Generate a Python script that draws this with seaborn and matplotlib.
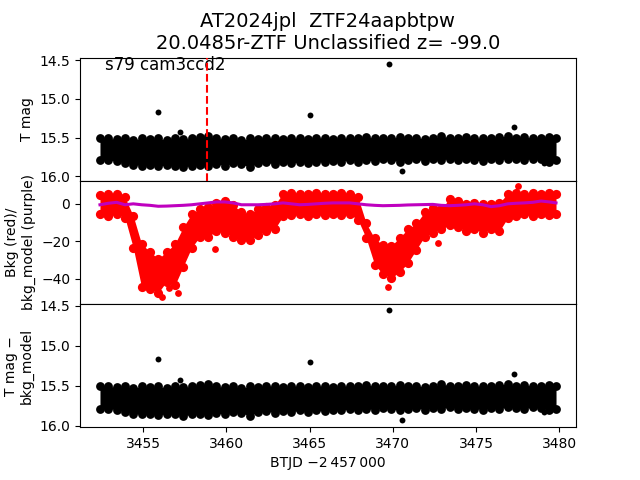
import matplotlib
matplotlib.use("Agg")
import matplotlib.pyplot as plt
import seaborn as sns

# ---- data ----
btjd = [3452.4, 3452.9, 3453.4, 3453.9, 3454.4, 3454.9, 3455.4, 3455.9, 3456.4, 3456.9,
        3457.4, 3457.9, 3458.4, 3458.9, 3459.4, 3459.9, 3460.4, 3460.9, 3461.4, 3461.9,
        3462.4, 3462.9, 3463.4, 3463.9, 3464.4, 3464.9, 3465.4, 3465.9, 3466.4, 3466.9,
        3467.4, 3467.9, 3468.4, 3468.9, 3469.4, 3469.9, 3470.4, 3470.9, 3471.4, 3471.9,
        3472.4, 3472.9, 3473.4, 3473.9, 3474.4, 3474.9, 3475.4, 3475.9, 3476.4, 3476.9,
        3477.4, 3477.9, 3478.4, 3478.9, 3479.4, 3479.8]

# bright (upper) and faint (lower) edges of the T mag band
tmag_bright = [15.50, 15.51, 15.52, 15.51, 15.53, 15.51, 15.52, 15.51, 15.53, 15.50,
               15.52, 15.51, 15.49, 15.48, 15.51, 15.52, 15.51, 15.53, 15.51, 15.52,
               15.50, 15.51, 15.52, 15.51, 15.50, 15.52, 15.51, 15.50, 15.52, 15.51,
               15.50, 15.51, 15.49, 15.51, 15.50, 15.51, 15.49, 15.51, 15.50, 15.52,
               15.51, 15.48, 15.50, 15.51, 15.49, 15.51, 15.50, 15.51, 15.49, 15.48,
               15.50, 15.49, 15.51, 15.50, 15.49, 15.50]
tmag_faint = [15.79, 15.79, 15.80, 15.83, 15.85, 15.86, 15.85, 15.87, 15.85, 15.86,
              15.88, 15.86, 15.85, 15.87, 15.84, 15.86, 15.83, 15.84, 15.88, 15.83,
              15.82, 15.84, 15.82, 15.83, 15.81, 15.83, 15.81, 15.82, 15.80, 15.81,
              15.79, 15.81, 15.79, 15.80, 15.78, 15.79, 15.81, 15.79, 15.78, 15.80,
              15.78, 15.79, 15.77, 15.79, 15.78, 15.79, 15.80, 15.78, 15.79, 15.77,
              15.78, 15.79, 15.77, 15.78, 15.81, 15.79]
tmag_out_t = [3455.9, 3457.2, 3465.0, 3469.75, 3477.3, 3470.55, 3479.05]
tmag_out_v = [15.17, 15.43, 15.21, 14.555, 15.36, 15.93, 15.83]

# background (red) band edges and model (purple)
bkg_high = [4.5, 5.5, 5, 3.5, -6.5, -21.5, -25.5, -29.5, -25.5, -21.5,
            -12.5, -5.5, -2.5, -1.5, 0.5, 1.5, -0.5, -4.5, -5.5, -2.5,
            -1.5, -0.5, 5.5, 6, 5.5, 5.5, 6, 5.5, 5.5, 6,
            5.5, 3.5, -10.5, -18.5, -22, -22.5, -18, -13.5, -10.5, -4.5,
            -2, -2.5, 2.5, 1.5, 0, 0.5, 0, 0, 0.5, 5.5,
            6, 5.5, 6, 5.5, 6, 5.5]
bkg_low = [-5.5, -6.5, -5.5, -7.5, -23.5, -44.5, -45.5, -47.5, -41.5, -43.5,
           -33.5, -23.5, -17.5, -17.5, -14.5, -15.5, -17.5, -19.5, -19.5, -16.5,
           -14.5, -13.5, -6.5, -6, -5.5, -6.5, -5.5, -6, -5.5, -6,
           -5.5, -8.5, -18.5, -32.5, -37.5, -39.5, -36.5, -31.5, -24.5, -17.5,
           -15.5, -13.5, -11.5, -12.5, -14.5, -13.5, -15.5, -13.5, -14.5, -7.5,
           -6.5, -5.5, -6.5, -5.5, -6, -5.5]
bkg_out_t = [3456.1, 3456.56, 3457.06, 3459.33, 3469.68, 3472.68, 3477.5]
bkg_out_v = [-50, -45, -47.5, -24, -44.5, -21, 9.6]
bkg_model = [-0.5, 0.3, 0.8, -0.5, 0.0, -0.5, -0.8, -1.3, -1.2, -1.0,
             -0.8, -0.5, 0.0, 0.5, 1.0, 1.0, 0.5, -0.5, -0.5, -0.5,
             -0.3, 0.0, 0.5, 0.0, -0.5, -0.3, 0.0, 0.3, 0.5, 0.5,
             0.5, 0.0, -0.5, -0.8, -1.0, -0.9, -0.8, -0.6, -0.5, -0.4,
             -0.3, -0.8, -1.0, -0.8, -0.5, 0.0, -0.5, -1.5, -1.0, 0.0,
             0.3, 0.5, 0.8, 1.5, 1.0, 0.5]

peak_time = 3458.85
title_text = "AT2024jpl  ZTF24aapbtpw\n20.0485r-ZTF Unclassified z= -99.0"
sector_text = "s79 cam3ccd2"

fig, axes = plt.subplots(3, 1, sharex=True, figsize=(6.4, 4.8), dpi=100)
fig.subplots_adjust(hspace=0)
ax1, ax2, ax3 = axes


def band(ax, lo, hi, color, s):
    ax.fill_between(btjd, lo, hi, color=color, lw=0, zorder=2)
    sns.scatterplot(x=btjd, y=lo, ax=ax, color=color, s=s, linewidth=0, zorder=3)
    sns.scatterplot(x=btjd, y=hi, ax=ax, color=color, s=s, linewidth=0, zorder=3)


# top panel
band(ax1, tmag_bright, tmag_faint, "k", 40)
sns.scatterplot(x=tmag_out_t, y=tmag_out_v, ax=ax1, color="k", s=18, linewidth=0, zorder=3)
ax1.axvline(peak_time, color="r", ls="--", lw=1.5, zorder=4)
ax1.set_ylim(16.056, 14.469)
ax1.set_yticks([14.5, 15.0, 15.5, 16.0])
ax1.set_ylabel("T mag")
ax1.text(0.05, 0.9, sector_text, transform=ax1.transAxes, fontsize=12)
ax1.set_title(title_text, fontsize=14)

# middle panel
band(ax2, bkg_low, bkg_high, "r", 44)
sns.scatterplot(x=bkg_out_t, y=bkg_out_v, ax=ax2, color="r", s=24, linewidth=0, zorder=3)
sns.lineplot(x=btjd, y=bkg_model, ax=ax2, color="m", lw=2.2, errorbar=None, zorder=5)
ax2.set_ylim(-53.5, 12.3)
ax2.set_yticks([-40, -20, 0])
ax2.set_ylabel("Bkg (red)/\nbkg_model (purple)")

# bottom panel
band(ax3, tmag_bright, tmag_faint, "k", 40)
sns.scatterplot(x=tmag_out_t, y=tmag_out_v, ax=ax3, color="k", s=18, linewidth=0, zorder=3)
ax3.set_ylim(16.02, 14.479)
ax3.set_yticks([14.5, 15.0, 15.5, 16.0])
ax3.set_ylabel("T mag \u2212\nbkg_model")
ax3.set_xlim(3451.2, 3481.0)
ax3.set_xlabel("BTJD \u22122\u2009457\u2009000")

fig.savefig("out.png", dpi=100)
